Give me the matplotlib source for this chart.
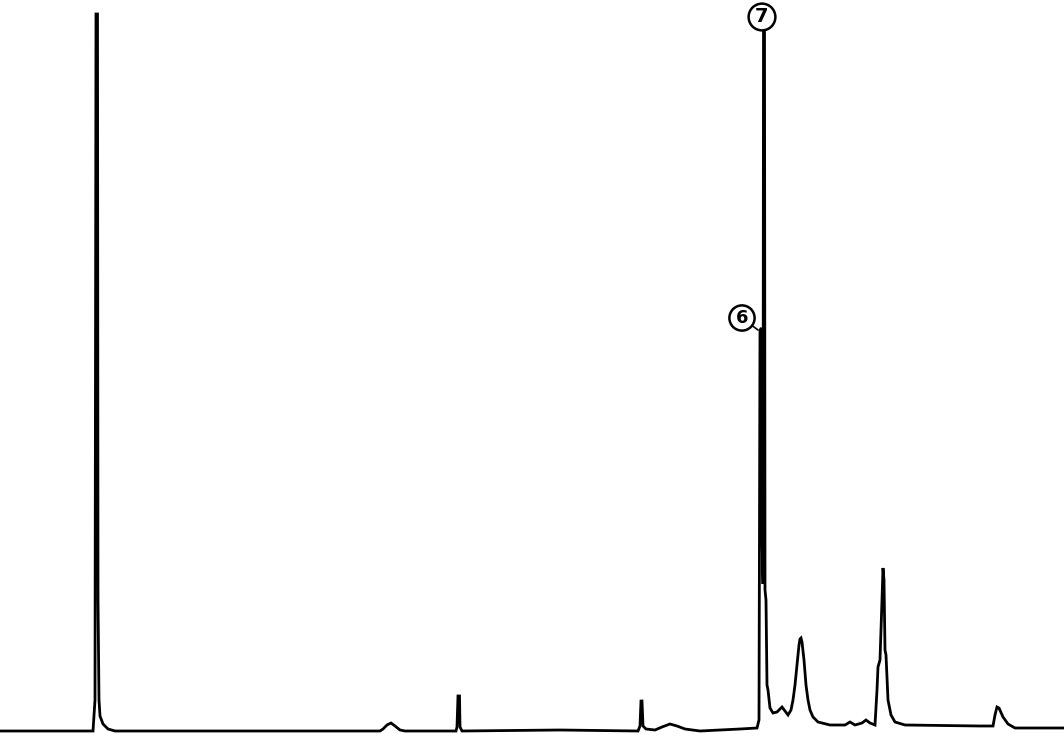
import matplotlib
matplotlib.use("Agg")
import matplotlib.pyplot as plt

# Chromatogram trace: scan index vs detector signal (arb. units)
scan = [0, 93, 95, 96, 97.5, 98, 99, 100, 103, 108, 115,
        380, 383, 387, 391, 395, 400, 405,
        456, 457, 458, 459.5, 460, 462,
        560, 638, 640, 641, 642, 643, 646, 655, 662, 670, 677, 685, 700,
        740, 757, 759, 760, 761.5, 762, 763, 763.5, 764.5, 765, 766, 767, 768, 770, 773,
        777, 782, 785, 788, 791, 793, 795, 797, 799, 800, 801, 802, 804, 806, 808, 810, 813, 818,
        830, 845, 850, 855, 862, 866, 870, 875, 877, 878, 880, 882, 883, 884, 885, 886,
        888, 891, 895, 905, 980, 993, 995, 997, 999, 1003, 1008, 1015, 1064]
signal = [3, 3, 34, 720, 720, 134, 34, 18, 10, 5, 3,
          3, 5, 9, 11, 8, 4, 3,
          3, 7, 38, 38, 7, 3,
          4, 3, 8, 33, 33, 8, 5, 4, 7, 10, 8, 5, 3,
          5, 6, 14, 404, 406, 200, 150, 704, 704, 144, 134, 49, 44, 26, 21,
          22, 27, 23, 19, 24, 34, 49, 69, 89, 95, 96, 92, 74, 49, 34, 24, 17, 12,
          9, 9, 12, 9, 11, 14, 11, 9, 44, 67, 74, 134, 166, 154, 84, 79,
          34, 19, 12, 9, 8, 8, 19, 27, 26, 17, 10, 6, 6]

peak_labels = ["7", "6"]
peak_scan = [764, 761]
peak_signal = [704, 404]

fig = plt.figure(figsize=(10.64, 7.34), dpi=100)
ax = fig.add_axes([0, 0, 1, 1])
ax.plot(scan, signal, color="black", lw=2.0, solid_joinstyle="miter")
ax.set_xlim(0, 1064)
ax.set_ylim(0, 734)
ax.axis("off")

# label 7 sits on top of its peak
ax.text(peak_scan[0] - 2, peak_signal[0] + 13, peak_labels[0], ha="center", va="center",
        fontsize=14, fontweight="bold",
        bbox=dict(boxstyle="circle,pad=0.2", fc="white", ec="black", lw=1.8))
# label 6 with leader line
ax.annotate(peak_labels[1], xy=(peak_scan[1] - 3, peak_signal[1]), xytext=(742, 416),
            ha="center", va="center", fontsize=13, fontweight="bold",
            bbox=dict(boxstyle="circle,pad=0.2", fc="white", ec="black", lw=1.8),
            arrowprops=dict(arrowstyle="-", color="black", lw=1.2, shrinkA=0, shrinkB=0))

fig.savefig("out.png", dpi=100)
